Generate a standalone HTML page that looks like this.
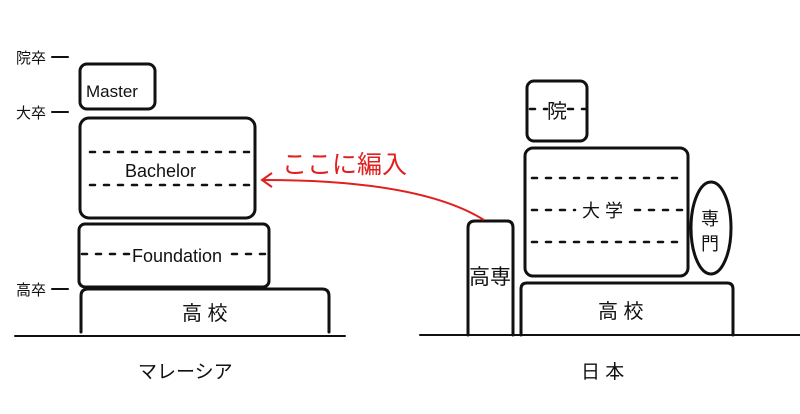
<!DOCTYPE html>
<html><head><meta charset="utf-8"><style>
body{margin:0;background:#fff}
svg{display:block}
text{font-family:"Liberation Sans","Noto Sans CJK JP",sans-serif;fill:#111}
</style></head><body>
<svg width="800" height="414" viewBox="0 0 800 414" xmlns="http://www.w3.org/2000/svg">
<g fill="none" stroke="#111" stroke-width="3" stroke-linecap="round">
<rect x="80" y="64" width="75" height="45" rx="7"/>
<rect x="80" y="118" width="175" height="100" rx="9"/>
<rect x="79" y="224" width="190" height="63" rx="6"/>
<path d="M81 332 V296 Q81 289 88 289 H322 Q329 289 329 296 V332"/>
<line x1="15" y1="336" x2="345" y2="336" stroke-width="2"/>
<line x1="52" y1="57" x2="68" y2="57" stroke-width="2"/>
<line x1="52" y1="112" x2="68" y2="112" stroke-width="2"/>
<line x1="52" y1="289" x2="68" y2="289" stroke-width="2"/>
<g stroke-dasharray="5 9" stroke-width="2.5">
<line x1="90" y1="152" x2="250" y2="152"/>
<line x1="90" y1="185" x2="250" y2="185"/>
<line x1="82" y1="254" x2="130" y2="254"/>
<line x1="232" y1="254" x2="268" y2="254"/>
</g>
<rect x="527" y="81" width="60" height="60" rx="7"/>
<rect x="525" y="148" width="163" height="128" rx="8"/>
<ellipse cx="711" cy="228" rx="20" ry="46"/>
<path d="M468 335 V228 Q468 221 475 221 H507 Q513 221 513 228 V335"/>
<path d="M521 335 V289 Q521 283 527 283 H727 Q733 283 733 289 V335"/>
<line x1="420" y1="335" x2="800" y2="335" stroke-width="2"/>
<g stroke-dasharray="5 9" stroke-width="2.5">
<line x1="530" y1="109" x2="547" y2="109"/>
<line x1="568" y1="109" x2="587" y2="109"/>
<line x1="532" y1="178" x2="686" y2="178"/>
<line x1="532" y1="210" x2="575" y2="210"/>
<line x1="635" y1="210" x2="686" y2="210"/>
<line x1="532" y1="242" x2="686" y2="242"/>
</g>
</g>
<path d="M484 220 Q420 180 264 180" fill="none" stroke="#e02020" stroke-width="2"/>
<path d="M272 173 L262 180 L272 187" fill="none" stroke="#e02020" stroke-width="2"/>
<text x="282" y="173" font-size="25" style="fill:#e02020">ここに編入</text>
<text x="86" y="97" font-size="17">Master</text>
<text x="125" y="177" font-size="18">Bachelor</text>
<text x="132" y="262" font-size="18">Foundation</text>
<text x="182" y="320" font-size="20">高 校</text>
<text x="16" y="63" font-size="15">院卒</text>
<text x="16" y="118" font-size="15">大卒</text>
<text x="16" y="295" font-size="15">高卒</text>
<text x="547" y="118" font-size="20">院</text>
<text x="582" y="217" font-size="18">大 学</text>
<text x="701" y="225" font-size="18">専</text>
<text x="701" y="250" font-size="18">門</text>
<text x="469" y="284" font-size="21">高専</text>
<text x="598" y="318" font-size="20">高 校</text>
<text x="138" y="378" font-size="19">マレーシア</text>
<text x="581" y="378" font-size="19">日 本</text>
</svg>
</body></html>
